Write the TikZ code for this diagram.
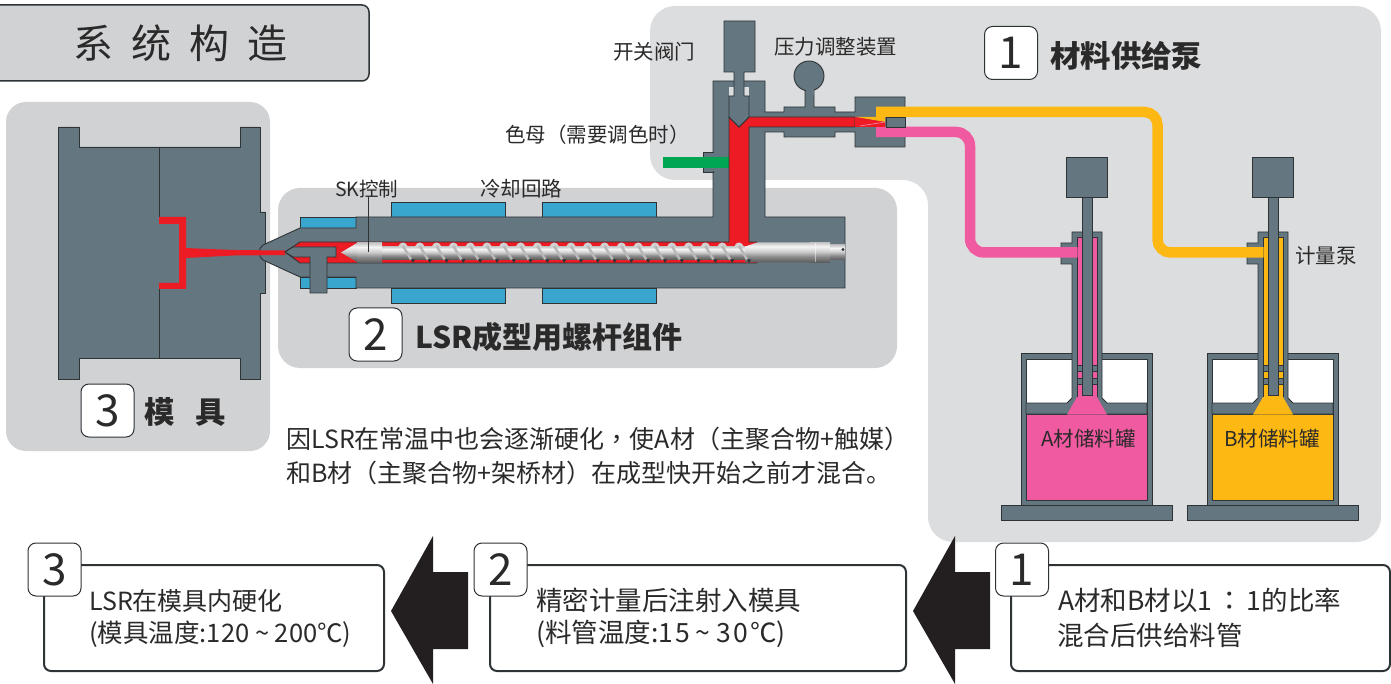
\documentclass[tikz,border=0pt]{standalone}
\usepackage{fontspec}
\setmainfont{Noto Sans CJK SC}
\newfontfamily\punctfont{Noto Sans CJK TC}
\definecolor{ink}{HTML}{2B2A2B}
\definecolor{edgeline}{HTML}{2E3336}
\definecolor{steel}{HTML}{64767F}
\definecolor{panellight}{HTML}{DCDDDE}
\definecolor{paneldark}{HTML}{D1D2D4}
\definecolor{melt}{HTML}{ED1C24}
\definecolor{pinkmat}{HTML}{F05AA0}
\definecolor{yellowmat}{HTML}{FDB813}
\definecolor{greenmat}{HTML}{00A651}
\definecolor{heater}{HTML}{39A7CD}
\definecolor{blockarrow}{HTML}{231F20}
\pgfdeclareverticalshading{screwshade}{100bp}{
    color(0bp)=(black!65); color(25bp)=(black!65); color(40bp)=(black!45);
    color(52bp)=(black!20); color(65bp)=(black!4); color(75bp)=(black!22);
    color(100bp)=(black!22)}
\tikzset{
    part/.style={fill=steel, draw=edgeline, line width=0.9pt, line join=miter},
    heaterbox/.style={fill=heater, draw=edgeline, line width=0.9pt},
    txt/.style={text=ink, inner sep=0pt, anchor=west, font=\fontsize{20.5}{20}\selectfont},
    bigtxt/.style={txt, font=\fontsize{25}{25}\selectfont},
    steptxt/.style={txt, font=\fontsize{26.5}{26}\selectfont},
    headtxt/.style={txt, font=\fontsize{30.4}{30}\selectfont\bfseries},
    numbox/.style={fill=white, draw=edgeline, line width=1pt, rounded corners=8pt,
        minimum width=53pt, minimum height=53pt, inner sep=0pt, text=ink,
        font=\fontsize{44}{44}\selectfont},
    stepbox/.style={fill=white, draw=edgeline, line width=2pt, rounded corners=7pt,
        minimum height=106pt, inner sep=0pt},
}
\begin{document}
\begin{tikzpicture}[x=1pt, y=-1pt]
    \useasboundingbox (0, 0) rectangle (1391, 684);

    \fill[panellight, rounded corners=25pt] (650, 6) -- (1381, 6) -- (1381, 542)
        -- (928, 542) -- (928, 180) -- (650, 180) -- cycle;
    \fill[paneldark, rounded corners=22pt] (278, 188) rectangle (897, 368);
    \fill[paneldark, rounded corners=20pt] (6, 102) rectangle (270, 451);
    \draw[fill=paneldark, draw=edgeline, line width=1.5pt, rounded corners=7pt]
        (-10, 5) rectangle (369, 81);
    \node[txt, font=\fontsize{40}{40}\selectfont] (title) at (73, 43)
        {系\hspace{18pt}统\hspace{18pt}构\hspace{18pt}造};

    \draw[part] (58, 127) -- (79, 127) -- (79, 147) -- (240, 147) -- (240, 127)
        -- (260, 127) -- (260, 212) -- (265, 212) -- (265, 293) -- (260, 293)
        -- (260, 379) -- (240, 379) -- (240, 358) -- (79, 358) -- (79, 379)
        -- (58, 379) -- cycle;
    \draw[edgeline, line width=0.9pt] (159, 147) -- (159, 217);
    \draw[edgeline, line width=0.9pt] (159, 289) -- (159, 358);
    \fill[melt] (159, 217) -- (186, 217) -- (186, 289) -- (159, 289) -- (159, 283)
        -- (179, 283) -- (179, 224) -- (159, 224) -- cycle;

    \foreach \hx in {391, 542} {
        \draw[heaterbox] (\hx, 202) rectangle ++(114, 15);
        \draw[heaterbox] (\hx, 288) rectangle ++(114, 15);
    }
    \draw[heaterbox] (300, 217) rectangle (356, 228);
    \draw[heaterbox] (300, 277) rectangle (356, 288);

    \draw[part] (713, 217) -- (713, 81) -- (765, 81) -- (765, 112) -- (784, 112)
        -- (784, 107) -- (805, 107) -- (805, 89) -- (814, 89) -- (814, 107)
        -- (835, 107) -- (835, 112) -- (855, 112) -- (855, 97) -- (905, 97)
        -- (905, 147) -- (855, 147) -- (855, 132) -- (835, 132) -- (835, 137)
        -- (784, 137) -- (784, 132) -- (765, 132) -- (765, 217) -- (845, 217)
        -- (845, 288) -- (356, 288) -- (356, 277) -- (300, 277) -- (263, 260)
        .. controls (258, 257) and (258, 248) .. (263, 245) -- (300, 228)
        -- (356, 228) -- (356, 217) -- cycle;
    \draw[part] (809, 76) circle (15);
    \fill[steel] (805.5, 88) rectangle (813.5, 95);

    \draw[part] (703, 152) rectangle (713, 172);
    \fill[steel] (712, 153) rectangle (714, 171);
    \fill[greenmat] (663, 157) rectangle (729, 168);

    \draw[fill=melt, draw=edgeline, line width=0.9pt] (729, 117) -- (739, 127)
        -- (749, 117) -- (855, 117) -- (855, 127) -- (749, 127) -- (749, 242)
        -- (757, 242) -- (757, 263) -- (300, 263) -- (285, 252) -- (300, 242)
        -- (729, 242) -- cycle;
    \fill[melt] (185, 248) -- (234, 250) -- (285, 250.5) -- (285, 255)
        -- (234, 255.5) -- (185, 258) -- cycle;

    \fill[panellight] (729, 87) rectangle (749, 96);
    \draw[part] (724, 21) -- (755, 21) -- (755, 72) -- (744, 72) -- (744, 96)
        -- (749, 96) -- (749, 117) -- (739, 127) -- (729, 117) -- (729, 96)
        -- (734, 96) -- (734, 72) -- (724, 72) -- cycle;

    \draw[part] (285, 252) -- (293, 247) -- (336, 247) -- (336, 257) -- (327, 257)
        -- (327, 293) -- (310, 293) -- (310, 257) -- (293, 257) -- cycle;

    \shade[shading=screwshade] (341, 252.5) -- (357, 243) -- (357, 262) -- cycle;
    \shade[shading=screwshade] (357, 243) rectangle (382, 263);
    \shade[shading=screwshade] (382, 246.5) rectangle (745, 259.5);
    \shade[shading=screwshade] (745, 259.5) -- (745, 262.5) -- (810, 262.5) -- (810, 242.5)
        -- (757, 242.5) -- (745, 246.5) -- cycle;
    \shade[shading=screwshade] (810, 242.5) rectangle (830, 262.5);
    \shade[shading=screwshade] (830, 245) rectangle (845, 260);
    \draw[white, opacity=0.5, line width=0.8pt] (815, 243) -- (815, 262);
    \fill[edgeline] (843, 249.5) circle (1.6);

    \foreach \i in {0, ..., 20} {
        \pgfmathsetmacro\fx{403 + \i * 16.8};
        \fill[black!18] (\fx - 5, 247) .. controls (\fx - 3, 241) and (\fx + 3, 241)
            .. (\fx + 5, 247) -- cycle;
        \draw[black!28, line width=2.5pt] (\fx, 246) -- (\fx + 8, 259.5);
        \fill[edgeline] (\fx + 8, 259.5) -- (\fx + 12, 259.5) -- (\fx + 10, 263) -- cycle;
    }
    \draw[edgeline, line width=1pt] (368, 197) -- (368, 252);

    \foreach \dx/\liq/\tankname/\tanktxt/\tx in {0/pinkmat/tanka/A材储料罐/1041,
        186/yellowmat/tankb/B材储料罐/1038} {
        \begin{scope}[xshift=\dx]
            \draw[part] (1001, 505) rectangle (1172, 520);
            \draw[part] (1021, 353) rectangle (1152, 505);
            \draw[fill=white, draw=edgeline, line width=0.9pt] (1026, 359) rectangle (1147, 500);
            \draw[fill=\liq, draw=edgeline, line width=0.6pt] (1026, 414) rectangle (1147, 500);
            \draw[part] (1072, 232) -- (1102, 232) -- (1102, 398) -- (1107, 403)
                -- (1147, 403) -- (1147, 414) -- (1026, 414) -- (1026, 403)
                -- (1067, 403) -- (1072, 398) -- (1072, 264) -- (1061, 264)
                -- (1061, 243) -- (1072, 243) -- cycle;
            \fill[\liq] (1077, 237) -- (1097, 237) -- (1097, 397) -- (1107, 414.5)
                -- (1067, 414.5) -- (1077, 397) -- cycle;
            \draw[edgeline, line width=0.7pt] (1077, 397) -- (1077, 237) -- (1097, 237)
                -- (1097, 397);
            \draw[part] (1066, 157) rectangle (1107, 197);
            \draw[part] (1077, 365) rectangle (1097, 371);
            \draw[part] (1077, 378) rectangle (1097, 384);
            \draw[part] (1082, 197) rectangle (1092, 395);
            \node[txt] (\tankname) at (\tx, 439) {\tanktxt};
        \end{scope}
    }

    \draw[yellowmat, line width=10.5pt, rounded corners=13pt] (876, 112)
        -- (1157.5, 112) -- (1157.5, 252.5) -- (1263.5, 252.5);
    \draw[pinkmat, line width=10.5pt, rounded corners=14pt] (876, 132) -- (970, 132)
        -- (970, 252.5) -- (1077.5, 252.5);
    \fill[yellowmat] (855, 117) -- (885, 117) -- (885, 122) -- cycle;
    \fill[melt] (855, 117) -- (885, 122) -- (885, 127) -- (855, 127) -- cycle;
    \draw[pinkmat!60!white, line width=0.5pt] (860, 126) -- (885, 122);
    \draw[part] (886, 117) rectangle (905, 127);

    \node[txt] (valve) at (613, 52) {开关阀门};
    \node[txt] (regulator) at (774, 47) {压力调整装置};
    \node[txt] (colorant) at (505, 135)
        {色母{\punctfont （}需要调色时{\punctfont ）}};
    \node[txt, font=\fontsize{19.5}{19}\selectfont] (skctrl) at (335, 189) {SK控制};
    \node[txt] (cooling) at (480, 189) {冷却回路};
    \node[txt] (meter) at (1295, 256) {计量泵};

    \node[numbox] (pumpnum) at (1011, 53) {1};
    \node[headtxt] (pumptxt) at (1050, 56) {材料供给泵};
    \node[numbox] (screwnum) at (375.5, 334.5) {2};
    \node[headtxt, font=\fontsize{30}{30}\selectfont\bfseries] (screwtxt) at (415, 337)
        {LSR成型用螺杆组件};
    \node[numbox] (moldnum) at (107.5, 410.5) {3};
    \node[headtxt] (moldtxt) at (144, 412) {模\hspace{21pt}具};

    \node[bigtxt] (notea) at (286, 439)
        {因LSR在常温中也会逐渐硬化{\punctfont ，}使A材{\punctfont （}主聚合物+触媒{\punctfont ）}};
    \node[bigtxt] (noteb) at (286, 473)
        {和B材{\punctfont （}主聚合物+架桥材{\punctfont ）}在成型快开始之前才混合。};

    \foreach \tipx in {391, 913} {
        \fill[blockarrow] (\tipx, 611) -- ++(42, -75) -- ++(0, 36) -- ++(35, 0)
            -- ++(0, 77) -- ++(-35, 0) -- ++(0, 35) -- cycle;
    }

    \foreach \boxname/\bx/\bw/\numname/\nx/\num in {
        boxa/1010/379/numa/1022/1, boxb/489/416/numb/500.5/2, boxc/43/340/numc/54.5/3} {
        \node[stepbox, anchor=west, minimum width=\bw] (\boxname) at (\bx, 618) {};
        \node[numbox] (\numname) at (\nx, 569.5) {\num};
    }
    \node[steptxt] (stepaa) at (1058, 600)
        {A材和B材以1\hspace{4pt}{\punctfont ：}\hspace{4pt}1的比率};
    \node[steptxt] (stepab) at (1057, 635) {混合后供给料管};
    \node[steptxt] (stepba) at (536, 600) {精密计量后注射入模具};
    \node[steptxt] (stepbb) at (536, 634)
        {(料管温度:1\hspace{2pt}5\hspace{6pt}\textasciitilde{}\hspace{6pt}3\hspace{2pt}0\hspace{2pt}℃)};
    \node[steptxt, font=\fontsize{25}{25}\selectfont] (stepca) at (89, 601) {LSR在模具内硬化};
    \node[steptxt, font=\fontsize{25.5}{25}\selectfont] (stepcb) at (89, 634)
        {(模具温度:120 \textasciitilde{} 200℃)};
\end{tikzpicture}
\end{document}
